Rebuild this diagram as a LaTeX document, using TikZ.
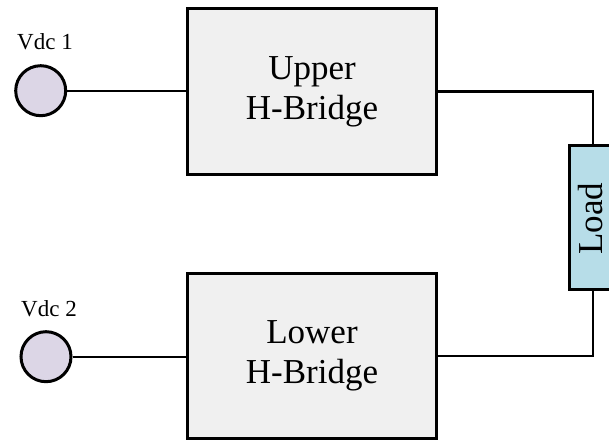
\documentclass[tikz,border=0pt]{standalone}
\usepackage{fontspec}
\setmainfont{Liberation Serif}
\definecolor{boxfill}{RGB}{240,240,240}
\definecolor{srcfill}{RGB}{220,214,230}
\definecolor{loadfill}{RGB}{183,221,232}
\tikzset{
  bridge/.style={draw=black, line width=3pt, fill=boxfill, minimum width=249pt, minimum height=165pt, inner sep=0pt, align=center, font=\fontsize{35}{40}\selectfont},
  src/.style={draw=black, line width=3pt, fill=srcfill, circle, minimum size=50pt, inner sep=0pt},
  loadbox/.style={draw=black, line width=3pt, fill=loadfill, minimum width=47pt, minimum height=144pt, inner sep=0pt},
  loadtext/.style={rotate=90, inner sep=0pt, font=\fontsize{35}{40}\selectfont},
  lbl/.style={font=\fontsize{23}{26}\selectfont, inner sep=0pt},
  wire/.style={line width=2.2pt, draw=black}
}
\begin{document}
\begin{tikzpicture}[x=1pt,y=-1pt]
\useasboundingbox (0,0) rectangle (609,441);
\clip (0,0) rectangle (609,441);
\node[bridge] (upper) at (312,91.5) {Upper\\H-Bridge};
\node[bridge] (lower) at (312,356) {Lower\\H-Bridge};
\node[src] (c1) at (40.7,90.7) {};
\node[src] (c2) at (46,356.7) {};
\node[lbl] (l1) at (45,42) {Vdc 1};
\node[lbl] (l2) at (49,309) {Vdc 2};
\node[loadbox] (load) at (592.7,217.6) {};
\node[loadtext] (loadlbl) at (591,218.5) {Load};
\draw[wire] (c1.east) -- (c1.east -| upper.west);
\draw[wire] (c2.east) -- (c2.east -| lower.west);
\draw[wire] (upper.east) -| (load.north);
\draw[wire] (lower.east) -| (load.south);
\end{tikzpicture}
\end{document}
